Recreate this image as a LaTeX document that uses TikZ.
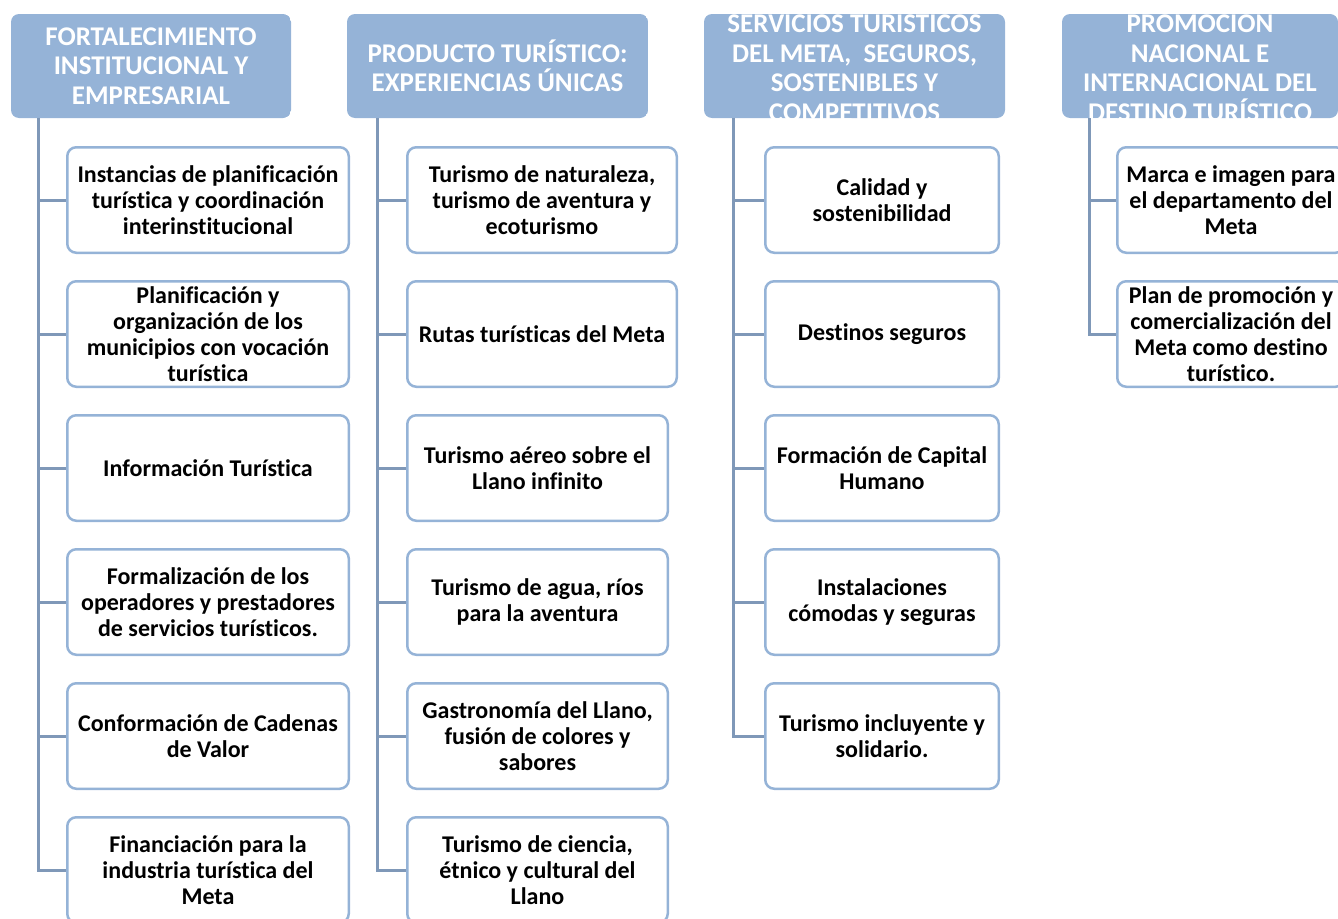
\documentclass[tikz,border=0pt]{standalone}
\usepackage{fontspec}
\setmainfont{Carlito}[Ligatures={NoCommon}]
\definecolor{hdrfill}{HTML}{95B3D7}
\definecolor{boxline}{HTML}{95B3D7}
\definecolor{connline}{HTML}{7F98B8}
\tikzset{
  hdr/.style={fill=hdrfill, rounded corners=8pt, text=white, align=center,
    font=\fontsize{27}{29.5}\selectfont\bfseries, inner sep=0pt, minimum height=104pt},
  cbox/.style={draw=boxline, line width=2.5pt, fill=white, rounded corners=9pt, align=center,
    font=\fontsize{24}{26}\selectfont\bfseries, inner sep=0pt, minimum height=105.5pt},
  conn/.style={draw=connline, line width=3pt},
}
\begin{document}
\begin{tikzpicture}[x=1pt,y=-1pt]
\useasboundingbox (0,0) rectangle (1338,918);
\clip (0,0) rectangle (1338,918);

% headers
\begin{scope}
\clip[rounded corners=8pt] (11,14) rectangle (291,118);
\node[hdr, minimum width=280pt] (h1) at (151,66) {FORTALECIMIENTO\\INSTITUCIONAL Y\\EMPRESARIAL};
\end{scope}
\begin{scope}
\clip[rounded corners=8pt] (347,14) rectangle (648,118);
\node[hdr, minimum width=301pt] (h2) at (497.5,66) {PRODUCTO TURÍSTICO:\\EXPERIENCIAS ÚNICAS};
\end{scope}
\begin{scope}
\clip[rounded corners=8pt] (704,14) rectangle (1005,118);
\node[hdr, minimum width=301pt] (h3) at (854.5,66) {SERVICIOS TURÍSTICOS\\DEL META,\ \ SEGUROS,\\SOSTENIBLES Y\\COMPETITIVOS};
\end{scope}
\begin{scope}
\clip[rounded corners=8pt] (1062,14) rectangle (1338,118);
\node[hdr, minimum width=276pt] (h4) at (1200,66) {PROMOCIÓN\\NACIONAL E\\INTERNACIONAL DEL\\DESTINO TURÍSTICO};
\end{scope}

% trunk coordinates
\coordinate (t1) at (38,118);
\coordinate (t2) at (377,118);
\coordinate (t3) at (733,118);
\coordinate (t4) at (1089,118);

% column 1
\node[cbox, minimum width=281.5pt] (c11) at (208,200) {Instancias de planificación\\turística y coordinación\\interinstitucional};
\node[cbox, minimum width=281.5pt] (c12) at (208,334) {Planificación y\\organización de los\\municipios con vocación\\turística};
\node[cbox, minimum width=281.5pt] (c13) at (208,468) {Información Turística};
\node[cbox, minimum width=281.5pt] (c14) at (208,602) {Formalización de los\\operadores y prestadores\\de servicios turísticos.};
\node[cbox, minimum width=281.5pt] (c15) at (208,736) {Conformación de Cadenas\\de Valor};
\node[cbox, minimum width=281.5pt] (c16) at (208,870) {Financiación para la\\industria turística del\\Meta};

% column 2
\node[cbox, minimum width=269.5pt] (c21) at (542,200) {Turismo de naturaleza,\\turismo de aventura y\\ecoturismo};
\node[cbox, minimum width=269.5pt] (c22) at (542,334) {Rutas turísticas del Meta};
\node[cbox, minimum width=260.5pt] (c23) at (537.5,468) {Turismo aéreo sobre el\\Llano infinito};
\node[cbox, minimum width=260.5pt] (c24) at (537.5,602) {Turismo de agua, ríos\\para la aventura};
\node[cbox, minimum width=260.5pt] (c25) at (537.5,736) {Gastronomía del Llano,\\fusión de colores y\\sabores};
\node[cbox, minimum width=260.5pt] (c26) at (537.5,870) {Turismo de ciencia,\\étnico y cultural del\\Llano};

% column 3
\node[cbox, minimum width=233.5pt] (c31) at (882,200) {Calidad y\\sostenibilidad};
\node[cbox, minimum width=233.5pt] (c32) at (882,334) {Destinos seguros};
\node[cbox, minimum width=233.5pt] (c33) at (882,468) {Formación de Capital\\Humano};
\node[cbox, minimum width=233.5pt] (c34) at (882,602) {Instalaciones\\cómodas y seguras};
\node[cbox, minimum width=233.5pt] (c35) at (882,736) {Turismo incluyente y\\solidario.};

% column 4
\node[cbox, minimum width=227.5pt] (c41) at (1231,200) {Marca e imagen para\\el departamento del\\Meta};
\node[cbox, minimum width=227.5pt] (c42) at (1231,334) {Plan de promoción y\\comercialización del\\Meta como destino\\turístico.};

% connectors
\foreach \c in {c11,c12,c13,c14,c15,c16} \draw[conn] (t1) |- (\c.west);
\foreach \c in {c21,c22,c23,c24,c25,c26} \draw[conn] (t2) |- (\c.west);
\foreach \c in {c31,c32,c33,c34,c35} \draw[conn] (t3) |- (\c.west);
\foreach \c in {c41,c42} \draw[conn] (t4) |- (\c.west);
\end{tikzpicture}
\end{document}
